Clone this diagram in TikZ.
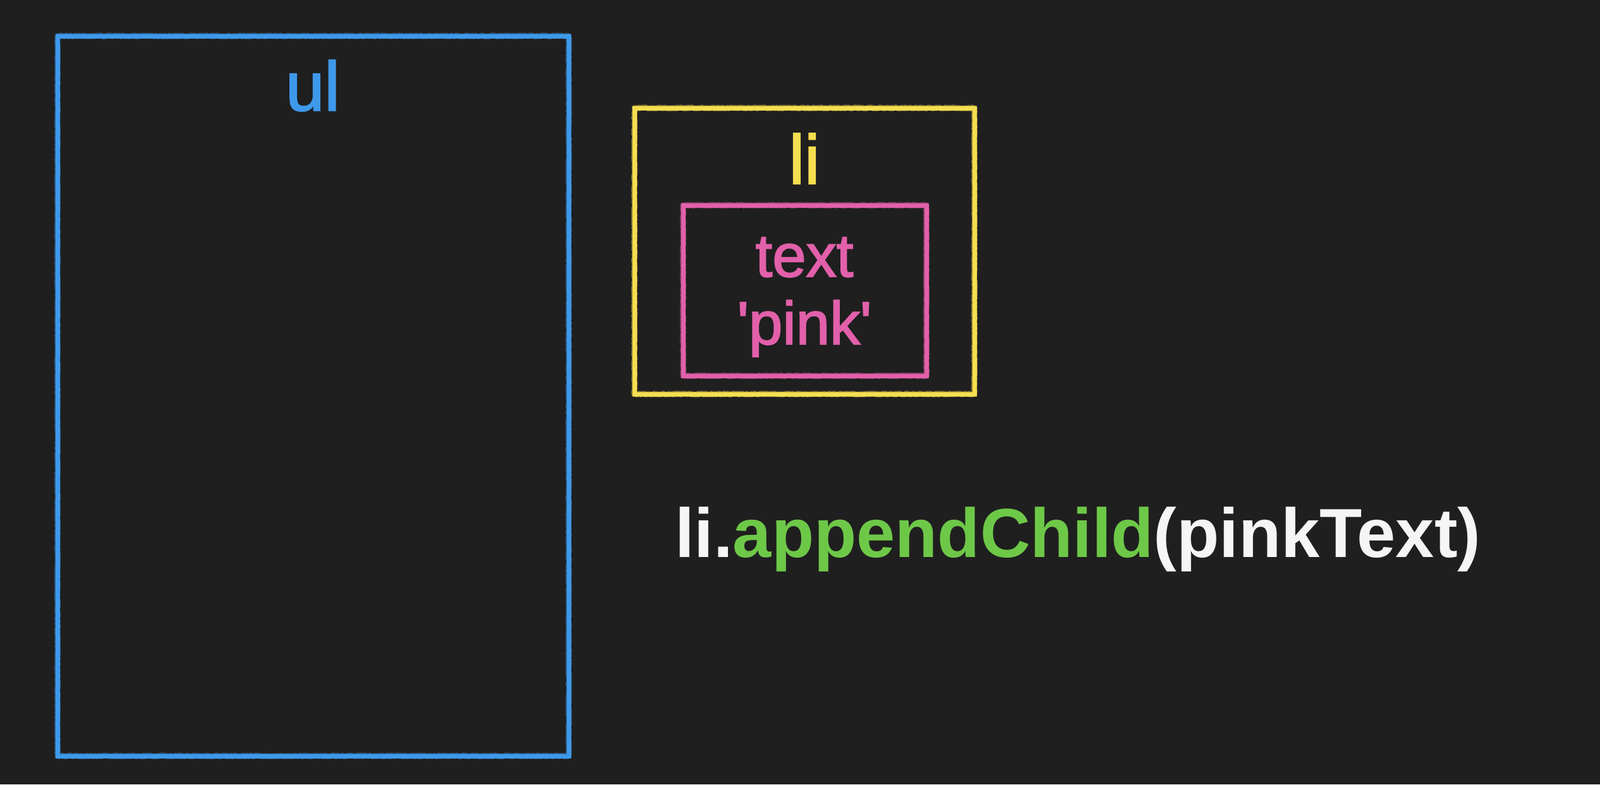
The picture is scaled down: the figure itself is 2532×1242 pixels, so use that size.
\documentclass[tikz,border=0pt]{standalone}
\usepackage{fontspec}
\setmainfont{Liberation Sans}
\newfontfamily\medfont{Liberation Sans}[BoldFont={Liberation Sans}, BoldFeatures={FakeBold=2}]
\usetikzlibrary{decorations.pathmorphing}
\definecolor{bgcol}{RGB}{31,31,31}
\definecolor{ublue}{RGB}{62,153,235}
\definecolor{lyellow}{RGB}{245,222,80}
\definecolor{tpink}{RGB}{226,96,170}
\definecolor{cgreen}{RGB}{110,200,72}
\definecolor{cwhite}{RGB}{245,245,245}
\tikzset{
  chalkbox/.style={draw=#1, line width=7pt, inner sep=0pt, outer sep=0pt,
    postaction={draw=#1, line width=9pt, opacity=0.5, line join=round, line cap=round, decorate,
      decoration={random steps, segment length=1.5pt, amplitude=0.8pt}}},
  biglabel/.style={anchor=base, inner sep=0pt, font=\fontsize{110}{132}\selectfont\medfont\bfseries},
  pinklabel/.style={anchor=base, inner sep=0pt, text=tpink, font=\fontsize{96}{107}\selectfont\medfont\bfseries},
  codelabel/.style={anchor=base west, inner sep=0pt, text=cwhite, font=\fontsize{110}{132}\selectfont\bfseries}
}
\begin{document}
\begin{tikzpicture}[x=1pt,y=-1pt]
\useasboundingbox (0,0) rectangle (2532,1242);
\fill[bgcol] (0,0) rectangle (2532,1242);
% boxes
\node[chalkbox=ublue, minimum width=809pt, minimum height=1140pt] (ul) at (495.5,627) {};
\node[chalkbox=lyellow, minimum width=538pt, minimum height=453pt] (li) at (1273,397.5) {};
\node[chalkbox=tpink, minimum width=385pt, minimum height=270pt] (txt) at (1273.5,460) {};
% labels
\node[biglabel, text=ublue] (ullabel) at (495,175) {ul};
\node[biglabel, text=lyellow] (lilabel) at (1273,291) {li};
\node[pinklabel] (textlabel) at (1273,438) {text};
\node[pinklabel] (pinklabel) at (1273,545) {'pink'};
% code
\node[codelabel] (code) at (1068,882) {li.\textcolor{cgreen}{appendChild}(pinkText)};
\end{tikzpicture}
\end{document}
